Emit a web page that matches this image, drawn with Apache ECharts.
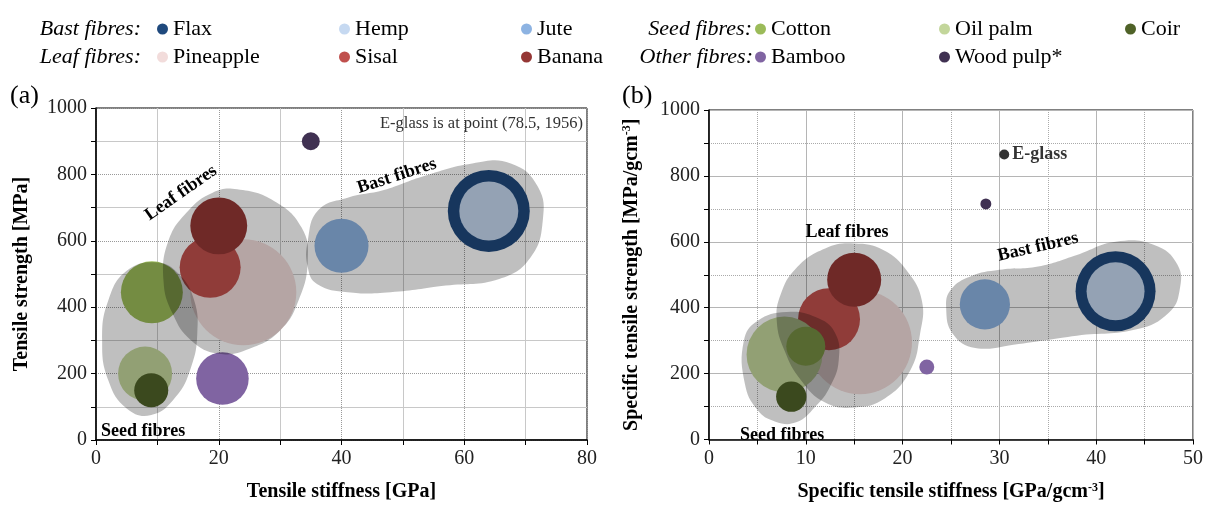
<!DOCTYPE html>
<html>
<head>
<meta charset="utf-8">
<script src="https://cdn.jsdelivr.net/npm/echarts@6/dist/echarts.min.js"></script>
<style>
  html, body { margin: 0; padding: 0; background: #fff; }
  #chart { width: 1210px; height: 507px; }
</style>
</head>
<body>
<div id="chart"></div>
<script>
// fibre names, in drawing order (later ones sit on top)
const fibres = ['Flax', 'Hemp', 'Jute', 'Pineapple', 'Sisal', 'Banana', 'Oil palm', 'Cotton', 'Coir', 'Bamboo', 'Wood pulp*'];
const fibreColors = ['#1f497d', '#c6d9f1', '#8db3e2', '#f2dcdb', '#c0504d', '#953735', '#c3d69b', '#9bbb59', '#4f6228', '#8064a2', '#403152'];

// (a) tensile stiffness [GPa] / tensile strength [MPa] / bubble value
const stiffness = [64, 64, 40, 24, 18.6, 20, 8, 9.1, 9, 20.6, 35];
const strength = [690, 690, 585, 445, 520, 645, 200, 445, 150, 185, 900];
const bubbleA = [16.8, 8.7, 7.3, 28.1, 9.3, 8.1, 7.3, 9.6, 2.9, 6.9, 0.8];

// (b) specific values
const specStiffness = [42, 42, 28.5, 15.6, 12.4, 15, 7.8, 10, 8.5, 22.5, 28.6];
const specStrength = [450, 450, 410, 295, 365, 485, 258, 283, 130, 220, 715];
const bubbleB = [16, 8.4, 6.3, 27, 9.6, 7.3, 14.4, 3.8, 2.3, 0.56, 0.3];
const eGlass = [30.5, 865, 0.25];

// group outlines (data units)
const bastBlobA = [[34.5, 600], [36.2, 692], [41, 730], [46.9, 753], [53.1, 793], [61.3, 833], [67.6, 833], [72, 763], [72.8, 662], [70.8, 550], [65.7, 485], [57, 465], [48, 445], [41, 445], [36, 470], [34.5, 520]];
const leafBlobA = [[11, 480], [11.8, 600], [15, 690], [19, 745], [23, 755], [29, 720], [33.5, 640], [34.5, 540], [33, 420], [30, 330], [25, 275], [20, 260], [15.5, 300], [12.5, 380]];
const seedBlobA = [[1, 300], [2, 420], [5, 510], [10, 535], [13.5, 500], [16, 420], [16.5, 320], [15.5, 220], [13, 130], [9, 75], [5, 95], [2, 180]];
const bastBlobB = [[24.5, 400], [25, 455], [27, 495], [30, 515], [34, 525], [38, 560], [42, 600], [46, 590], [48.4, 530], [48.6, 450], [47.5, 385], [44.3, 335], [38, 315], [32, 290], [27.5, 278], [25.2, 320]];
const leafBlobB = [[7, 360], [7.4, 440], [9, 520], [12, 580], [15, 595], [18, 575], [20.5, 510], [22, 420], [21.8, 320], [20.8, 210], [18.2, 125], [15, 97], [12, 112], [9.5, 180], [7.8, 270]];
const seedBlobB = [[3.6, 300], [5, 360], [8, 387], [11, 372], [13, 325], [13.4, 240], [12.5, 160], [11, 100], [9, 52], [6.8, 55], [5, 90], [3.7, 170]];

const legendCols = [['Flax', 'Pineapple'], ['Hemp', 'Sisal'], ['Jute', 'Banana'], ['Cotton', 'Bamboo'], ['Oil palm', 'Wood pulp*'], ['Coir']];
const legendLeft = [157, 339, 521, 755, 939, 1125];

const serif = 'Liberation Serif';
const chart = echarts.init(document.getElementById('chart'));

function bubbleSize(v) {
  return 20 * Math.sqrt(v[2]);
}

function makeAxis(gridIndex, max, interval, name, nameGap, majorDotted) {
  return {
    type: 'value',
    gridIndex: gridIndex,
    min: 0,
    max: max,
    interval: interval,
    name: name,
    nameLocation: 'middle',
    nameGap: nameGap,
    nameTextStyle: {
      fontFamily: serif, fontSize: 20, fontWeight: 'bold', color: '#000',
      rich: { sup: { fontFamily: serif, fontSize: 12, fontWeight: 'bold', color: '#000', verticalAlign: 'top', padding: [0, 0, 9, 0] } }
    },
    axisLine: { show: true, onZero: false, lineStyle: { color: '#000', width: 1.5 } },
    axisTick: { show: true, length: 5, lineStyle: { color: '#000' } },
    minorTick: { show: true, splitNumber: 2, length: 5, lineStyle: { color: '#000' } },
    axisLabel: { fontFamily: serif, fontSize: 20, color: '#222', margin: 9, formatter: function (v) { return String(v); } },
    splitLine: { show: true, lineStyle: { color: majorDotted ? '#999' : '#b5b5b5', type: majorDotted ? [1, 1] : 'solid', width: 1 } },
    minorSplitLine: { show: true, lineStyle: { color: majorDotted ? '#c8c8c8' : '#aaa', type: majorDotted ? 'solid' : [1, 1], width: 1 } }
  };
}

const series = [];
fibres.forEach(function (f, i) {
  series.push({
    name: f, type: 'scatter', xAxisIndex: 0, yAxisIndex: 0, silent: true,
    itemStyle: { color: fibreColors[i], opacity: 1 },
    symbolSize: bubbleSize,
    data: [[stiffness[i], strength[i], bubbleA[i]]]
  });
});
fibres.forEach(function (f, i) {
  series.push({
    name: f, type: 'scatter', xAxisIndex: 1, yAxisIndex: 1, silent: true,
    itemStyle: { color: fibreColors[i], opacity: 1 },
    symbolSize: bubbleSize,
    data: [[specStiffness[i], specStrength[i], bubbleB[i]]]
  });
});
series.push({
  name: 'E-glass', type: 'scatter', xAxisIndex: 1, yAxisIndex: 1, silent: true,
  itemStyle: { color: '#000' },
  symbolSize: bubbleSize,
  label: { show: true, position: 'right', distance: 3, formatter: 'E-glass', fontFamily: serif, fontSize: 18, fontWeight: 'bold', color: '#000' },
  data: [eGlass]
});

function blobSeries(axisIndex, blobs) {
  return {
    type: 'custom', xAxisIndex: axisIndex, yAxisIndex: axisIndex, silent: true, z: 5,
    data: blobs.map(function (b, i) { return [i]; }),
    renderItem: function (params, api) {
      const pts = blobs[api.value(0)].map(function (p) { return api.coord(p); });
      return { type: 'polygon', shape: { points: pts, smooth: 0.45 }, style: { fill: 'rgba(0,0,0,0.25)' } };
    }
  };
}
series.push(blobSeries(0, [bastBlobA, leafBlobA, seedBlobA]));
series.push(blobSeries(1, [bastBlobB, leafBlobB, seedBlobB]));

const boldLabel = 'bold 18px "Liberation Serif"';
const groupFont = 'italic 22px "Liberation Serif"';
function txt(text, x, y, font, deg, align, color) {
  return {
    type: 'text', x: x, y: y, rotation: (deg || 0) * Math.PI / 180, z: 100, silent: true,
    style: { text: text, font: font, fill: color || '#000', align: align || 'center', verticalAlign: 'middle' }
  };
}

const option = {
  animation: false,
  backgroundColor: '#fff',
  grid: [
    { left: 96, top: 108, width: 491, height: 333, show: true, borderColor: '#000', borderWidth: 1 },
    { left: 709, top: 110, width: 484, height: 332, show: true, borderColor: '#000', borderWidth: 1 }
  ],
  xAxis: [
    makeAxis(0, 80, 20, 'Tensile stiffness [GPa]', 42, true),
    makeAxis(1, 50, 10, 'Specific tensile stiffness [GPa/gcm{sup|-3}]', 42, false)
  ],
  yAxis: [
    makeAxis(0, 1000, 200, 'Tensile strength [MPa]', 64, true),
    makeAxis(1, 1000, 200, 'Specific tensile strength [MPa/gcm{sup|-3}]', 67, false)
  ],
  legend: legendCols.map(function (col, i) {
    return {
      orient: 'vertical', left: legendLeft[i], top: 18, padding: 0, itemGap: 6,
      icon: 'circle', itemWidth: 11, itemHeight: 11, selectedMode: false,
      textStyle: { fontFamily: serif, fontSize: 22, color: '#000', lineHeight: 22 },
      data: col
    };
  }),
  graphic: [
    txt('Bast fibres:', 141, 29, groupFont, 0, 'right'),
    txt('Leaf fibres:', 141, 57, groupFont, 0, 'right'),
    txt('Seed fibres:', 752, 29, groupFont, 0, 'right'),
    txt('Other fibres:', 753, 57, groupFont, 0, 'right'),
    txt('(a)', 10, 96, '26px "Liberation Serif"', 0, 'left'),
    txt('(b)', 622, 96, '26px "Liberation Serif"', 0, 'left'),
    txt('E-glass is at point (78.5, 1956)', 583, 124, '16.5px "Liberation Serif"', 0, 'right', '#333'),
    txt('Leaf fibres', 181, 193, boldLabel, 35),
    txt('Bast fibres', 397, 176, boldLabel, 18),
    txt('Seed fibres', 101, 431, boldLabel, 0, 'left'),
    txt('Leaf fibres', 847, 232, boldLabel, 0),
    txt('Bast fibres', 1038, 247, boldLabel, 13),
    txt('Seed fibres', 740, 435, boldLabel, 0, 'left')
  ],
  series: series
};
chart.setOption(option);
</script>
</body>
</html>
